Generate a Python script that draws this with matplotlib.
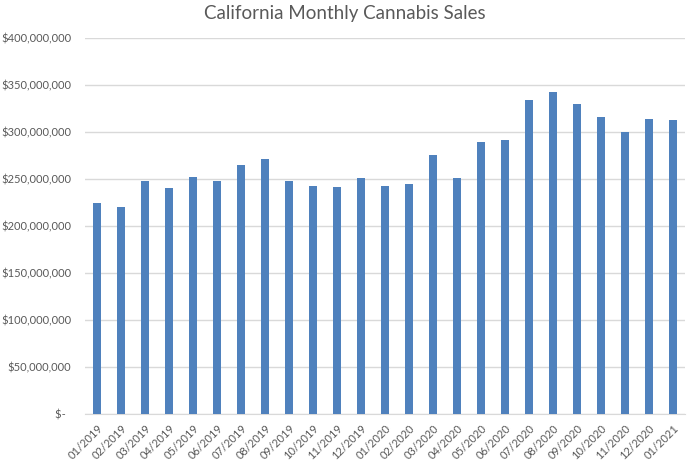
import matplotlib.pyplot as plt
from matplotlib.ticker import FuncFormatter, MultipleLocator

months = ['01/2019', '02/2019', '03/2019', '04/2019', '05/2019', '06/2019',
          '07/2019', '08/2019', '09/2019', '10/2019', '11/2019', '12/2019',
          '01/2020', '02/2020', '03/2020', '04/2020', '05/2020', '06/2020',
          '07/2020', '08/2020', '09/2020', '10/2020', '11/2020', '12/2020',
          '01/2021']
sales = [224.5e6, 220e6, 248e6, 240.5e6, 252e6, 248e6,
         265e6, 271e6, 248e6, 242.5e6, 241.5e6, 251e6,
         242.5e6, 244.5e6, 275.5e6, 251e6, 289e6, 291.5e6,
         334e6, 342.5e6, 330e6, 316e6, 300e6, 314e6,
         313e6]

plt.rcParams['font.family'] = ['Lato', 'DejaVu Sans']
text_grey = '#595959'


def dollars(v, pos):
    if v == 0:
        return '$-  '
    return '${:,.0f}'.format(v)


fig = plt.figure(figsize=(6.89, 4.63), dpi=100)
ax = fig.add_axes([85 / 689, 1 - 414 / 463, 600 / 689, 376 / 463])

x = list(range(len(months)))
ax.bar(x, sales, width=0.33, color='#4F81BD', zorder=3)

ax.set_xlim(-0.5, len(months) - 0.5)
ax.set_ylim(0, 400e6)
ax.yaxis.set_major_locator(MultipleLocator(50e6))
ax.yaxis.set_major_formatter(FuncFormatter(dollars))
ax.grid(axis='y', color='#d9d9d9', linewidth=1, zorder=0)

ax.set_xticks(x)
ax.set_xticklabels(months, rotation=45, ha='right', rotation_mode='anchor')
ax.tick_params(axis='both', length=0, labelsize=8, colors=text_grey)
ax.tick_params(axis='x', pad=6)
ax.tick_params(axis='y', pad=10)

for side in ['top', 'right', 'left']:
    ax.spines[side].set_visible(False)
ax.spines['bottom'].set_color('#d9d9d9')

fig.text(0.5, 0.97, 'California Monthly Cannabis Sales', ha='center', va='center',
         fontsize=13.5, color=text_grey)

fig.savefig('out.png', dpi=100)
